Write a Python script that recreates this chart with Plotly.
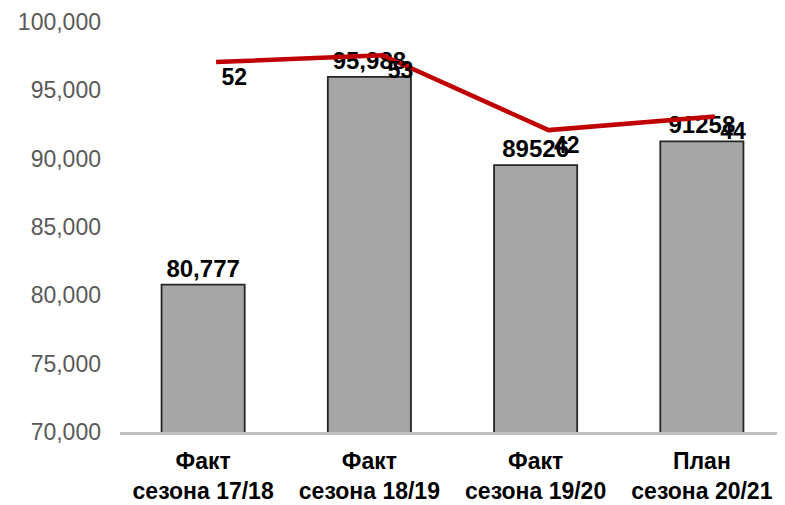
import plotly.graph_objects as go

categories = ["<b>Факт</b><br><b>сезона 17/18</b>", "<b>Факт</b><br><b>сезона 18/19</b>",
              "<b>Факт</b><br><b>сезона 19/20</b>", "<b>План</b><br><b>сезона 20/21</b>"]
bar_values = [80777, 95988, 89526, 91258]
bar_labels = ["80,777", "95,988", "89526", "91258"]
line_values = [52, 53, 42, 44]
line_labels = ["52", "53", "42", "44"]
tick_vals = [70000, 75000, 80000, 85000, 90000, 95000, 100000]
tick_text = ["70,000", "75,000", "80,000", "85,000", "90,000", "95,000", "100,000"]

FONT = "Liberation Sans, Arial, sans-serif"

fig = go.Figure()
fig.add_trace(go.Bar(
    x=categories, y=bar_values, text=bar_labels, textposition="outside",
    textfont=dict(family=FONT, size=24, color="#000000", weight="bold"),
    marker=dict(color="#a6a6a6", line=dict(color="#262626", width=1.8)),
    cliponaxis=False, width=0.5,
))
fig.add_trace(go.Scatter(
    x=categories, y=line_values, xaxis="x2", yaxis="y2",
    mode="lines+markers+text", text=line_labels, textposition="bottom right",
    textfont=dict(family=FONT, size=23, color="#000000", weight="bold"),
    marker=dict(size=7, color="rgba(0,0,0,0)"),
    line=dict(color="#c00000", width=4.5), cliponaxis=False,
))

fig.update_layout(
    width=777, height=497,
    margin=dict(l=112, r=0, t=14, b=73, autoexpand=False),
    paper_bgcolor="white", plot_bgcolor="white",
    showlegend=False,
    font=dict(family=FONT),
    xaxis=dict(type="category", range=[-0.5, 3.5], showline=True, linecolor="#bfbfbf",
               linewidth=2.5, ticks="", showgrid=False, automargin=False,
               ticklabelstandoff=7,
               tickfont=dict(family=FONT, size=23, color="#000000")),
    yaxis=dict(range=[70000, 100000], tickvals=tick_vals, ticktext=tick_text,
               showgrid=False, zeroline=False, showline=False, ticks="",
               ticklabelstandoff=18, automargin=False,
               tickfont=dict(family=FONT, size=23, color="#595959")),
    xaxis2=dict(type="category", overlaying="x", range=[-0.578, 3.422], visible=False),
    yaxis2=dict(overlaying="y", range=[-2.4, 57.9], visible=False),
)

fig.write_html("out.html")
